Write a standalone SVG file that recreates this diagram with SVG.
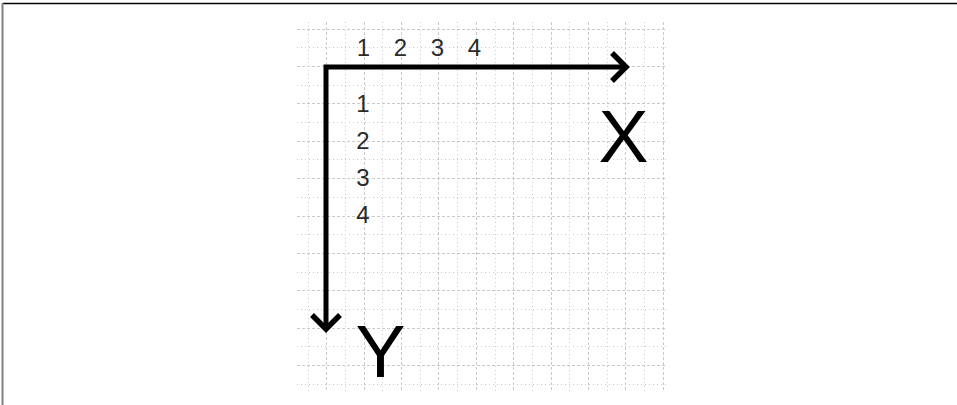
<svg xmlns="http://www.w3.org/2000/svg" width="957" height="405" viewBox="0 0 957 405">
<style>
.major{stroke:#cacaca;stroke-width:1;stroke-dasharray:3 2;fill:none}
.minor{stroke:#cccccc;stroke-width:1;stroke-dasharray:1 3;fill:none}
.axis{stroke:#000;stroke-width:5;fill:none;stroke-linejoin:miter}
.head{stroke:#000;stroke-width:5.5;fill:none;stroke-linejoin:miter;stroke-linecap:butt}
.num{font-family:"Liberation Sans",Arial,sans-serif;font-size:24px;fill:#2a2a2a;text-anchor:middle}
.big{font-family:"Liberation Sans",Arial,sans-serif;font-size:75px;fill:#000;text-anchor:middle}
</style>
<rect width="957" height="405" fill="#fff"/>
<g id="frame">
<line x1="3" y1="3.5" x2="957" y2="3.5" stroke="#000" stroke-width="1.5"/>
<line x1="2.5" y1="3" x2="2.5" y2="405" stroke="#808080" stroke-width="2"/>
</g>
<g id="grid">
<path class="minor" d="M308.5 22V391M345.5 22V391M382.5 22V391M420.5 22V391M457.5 22V391M495.5 22V391M532.5 22V391M569.5 22V391M607.5 22V391M644.5 22V391"/>
<path class="major" d="M326.5 22V391M364.5 22V391M401.5 22V391M438.5 22V391M476.5 22V391M513.5 22V391M551.5 22V391M588.5 22V391M625.5 22V391M663.5 22V391"/>
<path class="minor" d="M297 47.5H667M297 85.5H667M297 122.5H667M297 159.5H667M297 197.5H667M297 234.5H667M297 272.5H667M297 309.5H667M297 346.5H667M297 384.5H667"/>
<path class="major" d="M297 29.5H667M297 66.5H667M297 103.5H667M297 141.5H667M297 178.5H667M297 216.5H667M297 253.5H667M297 290.5H667M297 328.5H667M297 365.5H667"/>
</g>
<g id="connectors">
<path class="axis" d="M624 67H326V326"/>
<path class="head" d="M612 53L626 67L612 81"/>
<path class="head" d="M312 315L326 329L340 315"/>
</g>
<g id="x-labels">
<text class="num" x="363.5" y="56">1</text>
<text class="num" x="400.5" y="56">2</text>
<text class="num" x="437.5" y="56">3</text>
<text class="num" x="474.5" y="56">4</text>
</g>
<g id="y-labels">
<text class="num" x="363" y="112">1</text>
<text class="num" x="363" y="149">2</text>
<text class="num" x="363" y="186">3</text>
<text class="num" x="363" y="223">4</text>
</g>
<g id="axis-x-label"><text class="big" x="623.5" y="162">X</text></g>
<g id="axis-y-label"><text class="big" x="380.5" y="377">Y</text></g>
</svg>
